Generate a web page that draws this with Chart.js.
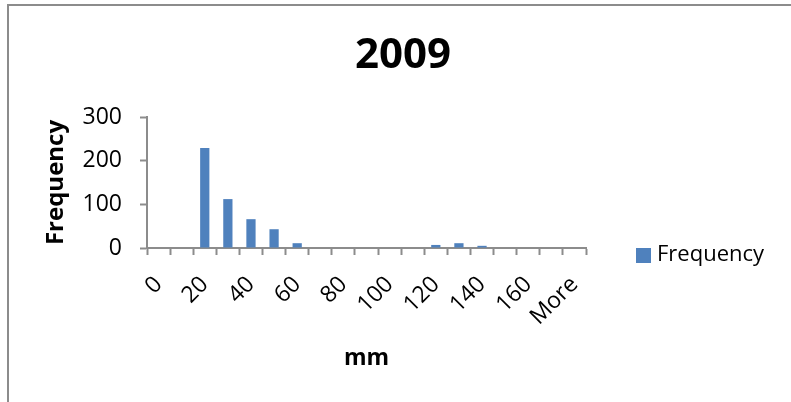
<!DOCTYPE html>
<html>
<head>
<meta charset="utf-8">
<title>2009</title>
<script src="https://cdn.jsdelivr.net/npm/chart.js@4/dist/chart.umd.min.js"></script>
<style>
    html, body {
        margin: 0;
        padding: 0;
        background: #ffffff;
        overflow: hidden;
    }
    #wrap {
        position: relative;
        width: 791px;
        height: 402px;
    }
    #frame {
        position: absolute;
        left: 7px;
        top: 4px;
        width: 900px;
        height: 500px;
        border-left: 2px solid #8c8c8c;
        border-top: 2px solid #8c8c8c;
    }
    canvas {
        position: absolute;
        left: 0;
        top: 0;
    }
</style>
</head>
<body>
<div id="wrap">
    <div id="frame"></div>
    <canvas id="histChart"></canvas>
</div>
<script>
// bins (mm) and counts
const bins = ['0', '10', '20', '30', '40', '50', '60', '70', '80', '90',
    '100', '110', '120', '130', '140', '150', '160', '170', 'More'];
const frequency = [0, 0, 229, 112, 66, 43, 11, 0, 0, 0, 0, 0, 7, 11, 5, 0, 0, 0, 0];
const yTicks = [0, 100, 200, 300];

const barColor = '#4F81BD';
const axisColor = '#8c8c8c';
const fontFamily = "'Open Sans', 'Liberation Sans', sans-serif";

// Excel-style legend sitting to the right, near the base line
const sideLegend = {
    id: 'sideLegend',
    afterDraw(chart) {
        const ctx = chart.ctx;
        const ds = chart.data.datasets[0];
        ctx.save();
        ctx.fillStyle = ds.backgroundColor;
        ctx.fillRect(636, 248, 15, 15);
        ctx.fillStyle = '#000000';
        ctx.font = '22px ' + fontFamily;
        ctx.textBaseline = 'middle';
        ctx.textAlign = 'left';
        ctx.fillText(ds.label, 657, 255);
        ctx.restore();
    }
};

const ctx = document.getElementById('histChart').getContext('2d');

new Chart(ctx, {
    type: 'bar',
    data: {
        labels: bins,
        datasets: [{
            label: 'Frequency',
            data: frequency,
            backgroundColor: barColor,
            borderWidth: 0,
            categoryPercentage: 1.0,
            barPercentage: 0.4
        }]
    },
    options: {
        responsive: true,
        maintainAspectRatio: false,
        animation: false,
        layout: {
            padding: { left: 40, right: 25, top: 0, bottom: 0 }
        },
        plugins: {
            legend: { display: false },
            tooltip: { enabled: false },
            title: {
                display: true,
                text: '2009',
                color: '#000000',
                font: { family: fontFamily, size: 42, weight: 'bold' },
                padding: { top: 31, bottom: 35.6 }
            }
        },
        scales: {
            x: {
                grid: {
                    display: true,
                    drawOnChartArea: false,
                    drawTicks: true,
                    tickLength: 7,
                    tickWidth: 2,
                    color: axisColor,
                    offset: true
                },
                border: { color: axisColor, width: 2 },
                ticks: {
                    autoSkip: false,
                    minRotation: 45,
                    maxRotation: 45,
                    padding: 16,
                    color: '#000000',
                    font: { family: fontFamily, size: 23 },
                    callback: function (value, index) {
                        return index % 2 === 0 ? bins[index] : '';
                    }
                },
                title: {
                    display: true,
                    text: 'mm',
                    color: '#000000',
                    font: { family: fontFamily, size: 23, weight: 'bold' },
                    padding: { top: 0, bottom: 30 }
                },
                afterFit: function (scale) {
                    scale.height = 154;
                }
            },
            y: {
                min: 0,
                max: 300,
                afterBuildTicks: function (scale) {
                    scale.ticks = yTicks.map(v => ({ value: v }));
                },
                grid: {
                    display: true,
                    drawOnChartArea: false,
                    drawTicks: true,
                    tickLength: 7,
                    tickWidth: 2,
                    color: axisColor
                },
                border: { color: axisColor, width: 2 },
                ticks: {
                    padding: 18,
                    color: '#000000',
                    font: { family: fontFamily, size: 23 }
                },
                title: {
                    display: true,
                    text: 'Frequency',
                    color: '#000000',
                    font: { family: fontFamily, size: 24, weight: 'bold' },
                    padding: { top: 2, bottom: 0 }
                },
                afterFit: function (scale) {
                    scale.width = 107;
                }
            },
            // empty right-hand strip that holds the legend space
            side: {
                position: 'right',
                display: true,
                grid: { display: false },
                border: { display: false },
                ticks: { display: false },
                afterFit: function (scale) {
                    scale.width = 180;
                }
            }
        }
    },
    plugins: [sideLegend]
});
</script>
</body>
</html>
